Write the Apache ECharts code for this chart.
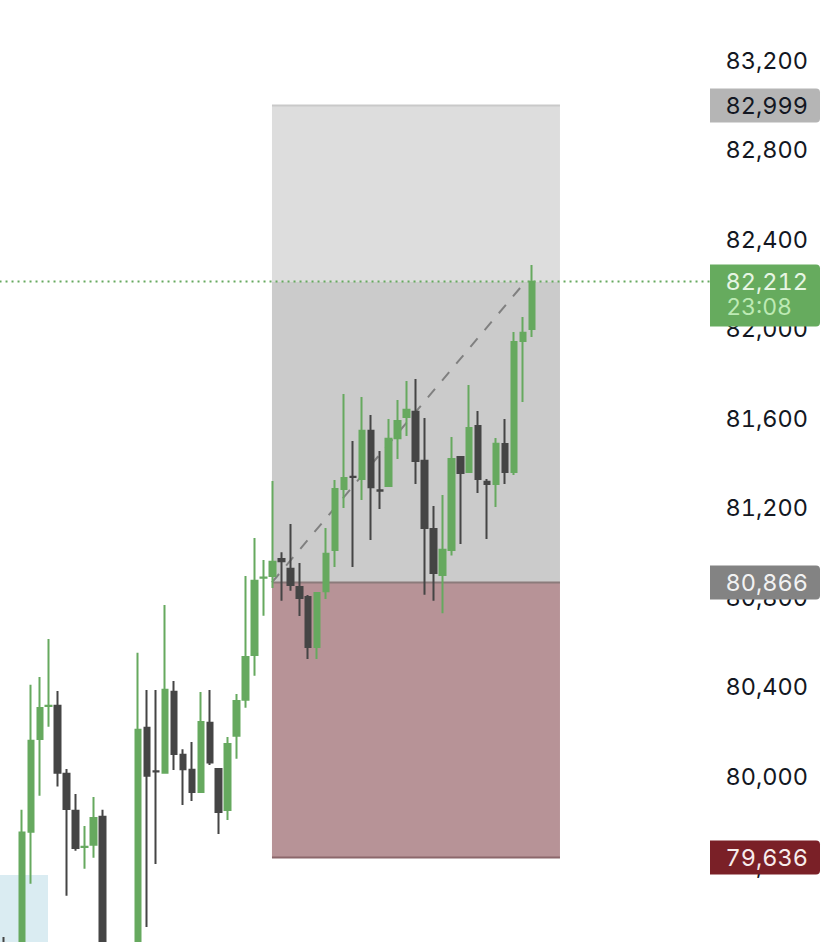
<!DOCTYPE html>
<html>
<head>
<meta charset="utf-8">
<title>Candlestick position</title>
<script src="https://cdn.jsdelivr.net/npm/echarts@6/dist/echarts.min.js"></script>
<style>
    html, body { margin: 0; padding: 0; background: #fff; }
    #chart { width: 828px; height: 942px; }
    /* 价格数字等宽 */
    #chart text { font-variant-numeric: tabular-nums !important; font-feature-settings: "tnum" !important; }
</style>
</head>
<body>
<div id="chart"></div>
<script>
// 蜡烛图数据，null 表示该柱在画面之外
const opens = [79250, null, 79210, 79751, 80166, 80313, 80314, 80010, 79845, 79683, 79693, 79818, null, null, null,
    79210, 80216, 80022, 80015, 80377, 80095, 80028, 79929, 80238, 80032, 79848, 80180, 80341, 80541, 80887,
    80895, 80971, 80927, 80846, 80801, 80577, 80827, 81011, 81284, 81338, 81328, 81544, 81278, 81297, 81511,
    81606, 81629, 81410, 81105, 80899, 81011, 81427, 81360, 81566, 81316, 81306, 81485, 81360, 81945, 81999];
const closes = [79210, null, 79748, 80158, 80305, 80314, 80015, 79853, 79679, 79684, 79813, 79210, null, null, null,
    80207, 80002, 80021, 80386, 80099, 80031, 79929, 80242, 80061, 79839, 80144, 80336, 80533, 80873, 80888,
    80958, 80961, 80854, 80796, 80577, 80819, 80994, 81284, 81333, 81337, 81544, 81292, 81276, 81508, 81588,
    81638, 81409, 81109, 80908, 81012, 81418, 81355, 81557, 81328, 81306, 81486, 81360, 81941, 81982, 82210];
const lows = [79205, null, 79205, 79519, 79912, 80221, 79953, 79465, 79666, 79586, 79635, 79205, null, null, null,
    79205, 79325, 79607, 80011, 80027, 79871, 79889, 79925, 80050, 79741, 79804, 80078, 80306, 80449, 80717,
    80841, 80784, 80829, 80716, 80524, 80524, 80792, 80935, 81199, 80935, 81235, 81056, 81194, 81293, 81418,
    81521, 81306, 80811, 80784, 80728, 80986, 81038, 81355, 81266, 81060, 81203, 81306, 81346, 81673, 81963];
const highs = [79281, null, 79849, 80408, 80443, 80613, 80381, 80032, 79920, 79777, 79907, 79849, null, null, null,
    80551, 80385, 80385, 80765, 80425, 80120, 80152, 80376, 80385, 80036, 80175, 80367, 80895, 81065, 80966,
    81320, 81001, 81127, 80953, 80810, 80823, 81109, 81324, 81709, 81498, 81695, 81615, 81454, 81597, 81682,
    81767, 81776, 81601, 81208, 81257, 81516, 81431, 81749, 81633, 81329, 81512, 81597, 81986, 82053, 82285];

// 价格标签
const tagValues = [82999, 82212, 80866, 79636];
const tagLabels = ['82,999', '82,212', '80,866', '79,636'];
const tagSubLabels = ['', '23:08', '', ''];

// 持仓区域，x 单位是柱序号
const zoneStart = [-0.5, 29.95, 29.95, 29.95];
const zoneEnd = [4.92, 62.14, 62.14, 62.14];
const zoneTop = [79558, 82999, 82212, 80866];
const zoneBottom = [79200, 82212, 80866, 79636];

// 趋势虚线和现价点线
const trendX = [29.95, 58.3];
const trendY = [80866, 82212];
const priceX = [-0.5, 78.9];
const priceY = [82212, 82212];

const barCount = 93;
const categories = [];
for (let i = 0; i < barCount; i++) {
    categories.push(String(i));
}

const candleData = opens.map(function (o, i) {
    return o === null ? '-' : [o, closes[i], lows[i], highs[i]];
});

const zoneFills = ['#daecf2', '#dddddd', '#cbcbcb', '#b79397'];
const zoneTopLines = [null, '#c9c9c9', null, '#8b7b7b'];
const zoneBottomLines = [null, null, null, '#8b676b'];
const tagFills = ['#b5b5b5', '#66ab5e', '#838383', '#7a2027'];
const tagTextColors = ['#131722', '#e6f5e3', '#f2f2f2', '#f7ecec'];
const tagHeights = [34, 62, 34, 34];

const FONT = 'Inter, "Liberation Sans", sans-serif';

const chart = echarts.init(document.getElementById('chart'), null, { renderer: 'svg' });

const option = {
    backgroundColor: '#fff',
    animation: false,
    grid: {
        left: -0.47,
        top: -29,
        width: 832.07,
        height: 984,
        // 价格轴两端在画面外，不要让 v6 把网格缩回来
        outerBoundsMode: 'none'
    },
    xAxis: [{
        type: 'category',
        data: categories,
        show: false
    }, {
        // 第二个 x 轴只用来放区域和线，允许小数位置
        type: 'value',
        min: -0.5,
        max: barCount - 0.5,
        show: false
    }],
    yAxis: {
        type: 'value',
        position: 'right',
        min: 79200,
        max: 83600,
        interval: 400,
        axisLine: { show: false },
        axisTick: { show: false },
        splitLine: { show: false },
        axisLabel: {
            inside: true,
            margin: 23.5,
            showMinLabel: false,
            showMaxLabel: false,
            color: '#131722',
            fontFamily: FONT,
            fontSize: 23.5,
            formatter: function (v) {
                return v.toLocaleString('en-US');
            }
        }
    },
    series: [{
        // 持仓区域
        type: 'custom',
        xAxisIndex: 1,
        z: 1,
        silent: true,
        clip: false,
        data: zoneStart.map(function (s, i) { return [s, zoneTop[i], i]; }),
        renderItem: function (params, api) {
            const i = api.value(2);
            const p0 = api.coord([zoneStart[i], zoneTop[i]]);
            const p1 = api.coord([zoneEnd[i], zoneBottom[i]]);
            const children = [{
                type: 'rect',
                shape: { x: p0[0], y: p0[1], width: p1[0] - p0[0], height: p1[1] - p0[1] },
                style: { fill: zoneFills[i] }
            }];
            if (zoneTopLines[i]) {
                children.push({
                    type: 'rect',
                    z2: 5,
                    shape: { x: p0[0], y: p0[1] - 1, width: p1[0] - p0[0], height: 2 },
                    style: { fill: zoneTopLines[i] }
                });
            }
            if (zoneBottomLines[i]) {
                children.push({
                    type: 'rect',
                    z2: 5,
                    shape: { x: p0[0], y: p1[1] - 1, width: p1[0] - p0[0], height: 2 },
                    style: { fill: zoneBottomLines[i] }
                });
            }
            return { type: 'group', children: children };
        }
    }, {
        type: 'line',
        xAxisIndex: 1,
        z: 2,
        silent: true,
        symbol: 'none',
        data: trendX.map(function (x, i) { return [x, trendY[i]]; }),
        lineStyle: { color: '#808080', width: 2, type: [11, 11] }
    }, {
        type: 'line',
        xAxisIndex: 1,
        z: 2,
        silent: true,
        symbol: 'none',
        data: priceX.map(function (x, i) { return [x, priceY[i]]; }),
        lineStyle: { color: '#66a95f', width: 2, type: [2, 4] }
    }, {
        type: 'candlestick',
        xAxisIndex: 0,
        z: 3,
        barWidth: 6,
        data: candleData,
        itemStyle: {
            color: '#66a95f',
            color0: '#454545',
            borderColor: '#66a95f',
            borderColor0: '#454545',
            borderWidth: 2
        }
    }, {
        // 右侧价格标签，盖住被挡住的刻度
        type: 'custom',
        xAxisIndex: 1,
        z: 10,
        silent: true,
        clip: false,
        data: tagValues.map(function (v, i) { return [0, v, i]; }),
        renderItem: function (params, api) {
            const i = api.value(2);
            const y = api.coord([0, api.value(1)])[1];
            const children = [{
                type: 'rect',
                shape: { x: 710, y: y - 17, width: 110, height: tagHeights[i], r: [0, 4, 4, 0] },
                style: { fill: tagFills[i] }
            }, {
                type: 'text',
                z2: 5,
                style: {
                    x: 808, y: y, text: tagLabels[i],
                    fill: tagTextColors[i], fontFamily: FONT, fontSize: 23.5,
                    align: 'right', verticalAlign: 'middle'
                }
            }];
            if (tagSubLabels[i]) {
                children.push({
                    type: 'text',
                    z2: 5,
                    style: {
                        x: 792, y: y + 26, text: tagSubLabels[i],
                        fill: '#bdeab4', fontFamily: FONT, fontSize: 23,
                        align: 'right', verticalAlign: 'middle'
                    }
                });
            }
            return { type: 'group', children: children };
        }
    }]
};

chart.setOption(option);
</script>
</body>
</html>
